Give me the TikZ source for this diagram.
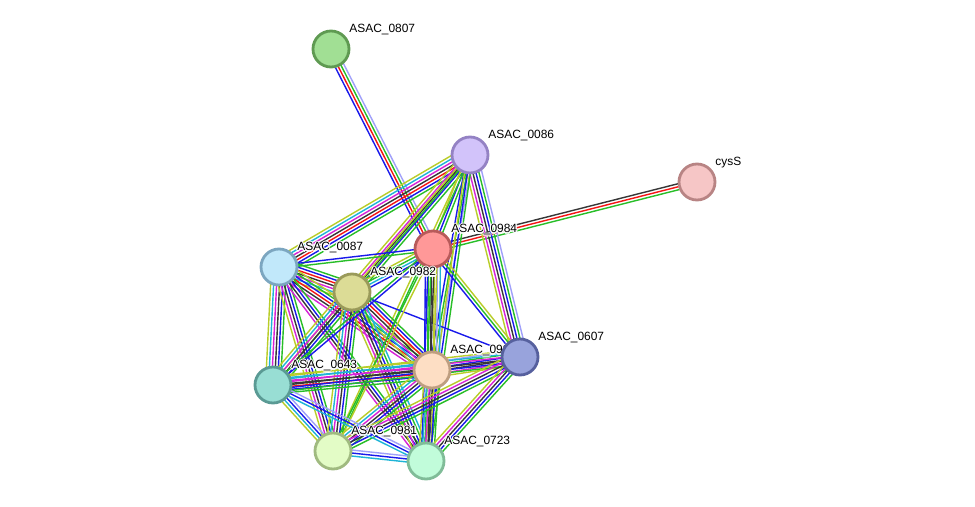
\documentclass[tikz,border=0pt]{standalone}
\usepackage{fontspec}
\setmainfont{Liberation Sans}
\usetikzlibrary{calc}
\pgfdeclarelayer{bg}
\pgfsetlayers{bg,main}

% evidence channel colours
\definecolor{nbhGreen}{RGB}{40,190,40}
\definecolor{fusRed}{RGB}{245,20,20}
\definecolor{cocBlue}{RGB}{25,25,235}
\definecolor{cxpBlack}{RGB}{55,55,55}
\definecolor{expPink}{RGB}{215,35,215}
\definecolor{dbsCyan}{RGB}{30,180,215}
\definecolor{txtLime}{RGB}{185,205,40}
\definecolor{homLav}{RGB}{160,160,250}

% protein fills / rims
\definecolor{f0807}{RGB}{161,223,148}\definecolor{d0807}{RGB}{95,154,82}
\definecolor{f0086}{RGB}{210,195,250}\definecolor{d0086}{RGB}{148,130,196}
\definecolor{fcys}{RGB}{246,198,198}\definecolor{dcys}{RGB}{184,132,132}
\definecolor{f0984}{RGB}{255,152,152}\definecolor{d0984}{RGB}{184,90,90}
\definecolor{f0087}{RGB}{193,232,250}\definecolor{d0087}{RGB}{124,166,192}
\definecolor{f0982}{RGB}{220,220,150}\definecolor{d0982}{RGB}{154,154,90}
\definecolor{f0983}{RGB}{253,222,196}\definecolor{d0983}{RGB}{190,158,128}
\definecolor{f0607}{RGB}{152,163,220}\definecolor{d0607}{RGB}{86,96,158}
\definecolor{f0643}{RGB}{152,222,212}\definecolor{d0643}{RGB}{90,154,148}
\definecolor{f0981}{RGB}{227,252,198}\definecolor{d0981}{RGB}{160,186,128}
\definecolor{f0723}{RGB}{193,252,218}\definecolor{d0723}{RGB}{128,188,152}

\tikzset{
  prot/.style 2 args={circle, fill=#1, draw=#2, line width=1.6pt, minimum size=0.72cm, inner sep=0pt},
  lbl/.style={anchor=west, inner sep=0pt, font=\fontsize{6.8}{8}\selectfont, text=black},
  evd/.style={line width=0.8pt},
}

% bundle of parallel evidence lines between two proteins
\newcommand\edge[3]{%
  \foreach \c [count=\n] in {#3} {\xdef\nlines{\n}}%
  \foreach \c [count=\i] in {#3} {%
    \pgfmathsetmacro\off{(\i-(\nlines+1)/2)*1.7}%
    \draw[evd, draw=\c] ($(#1)!\off pt!90:(#2)$) -- ($(#2)!\off pt!-90:(#1)$);
  }%
}

% protein name with a white halo, up and right of the disc
\newcommand\plabel[3]{%
  \foreach \dx/\dy in {-1.2/0,1.2/0,0/-1.2,0/1.2,-0.85/-0.85,0.85/-0.85,-0.85/0.85,0.85/0.85}
    \node[lbl, text=white] at ($(#2)+(18+\dx,-19+\dy)$) {#3};
  \node[lbl] (#1) at ($(#2)+(18,-19)$) {#3};
}

\begin{document}
\begin{tikzpicture}[x=0.02cm, y=-0.02cm]

\useasboundingbox (0,0) rectangle (975,507);

\node[prot={f0807}{d0807}] (n0807) at (331,49) {};
\plabel{l0807}{n0807}{ASAC\_0807}
\node[prot={f0086}{d0086}] (n0086) at (470,155) {};
\plabel{l0086}{n0086}{ASAC\_0086}
\node[prot={fcys}{dcys}] (ncys) at (697,182) {};
\plabel{lcys}{ncys}{cysS}
\node[prot={f0984}{d0984}] (n0984) at (433,249) {};
\plabel{l0984}{n0984}{ASAC\_0984}
\node[prot={f0087}{d0087}] (n0087) at (279,267) {};
\plabel{l0087}{n0087}{ASAC\_0087}
\node[prot={f0982}{d0982}] (n0982) at (352,292) {};
\plabel{l0982}{n0982}{ASAC\_0982}
\node[prot={f0643}{d0643}] (n0643) at (273,385) {};
\plabel{l0643}{n0643}{ASAC\_0643}
\node[prot={f0981}{d0981}] (n0981) at (333,451) {};
\plabel{l0981}{n0981}{ASAC\_0981}
\node[prot={f0723}{d0723}] (n0723) at (426,461) {};
\plabel{l0723}{n0723}{ASAC\_0723}
\node[prot={f0983}{d0983}] (n0983) at (432,370) {};
\plabel{l0983}{n0983}{ASAC\_0983}
% drawn last, it hides the end of the 0983 label
\node[prot={f0607}{d0607}] (n0607) at (520,357) {};
\plabel{l0607}{n0607}{ASAC\_0607}

\begin{pgfonlayer}{bg}
\fill[white] (0,0) rectangle (975,507);
\edge{n0807}{n0984}{cocBlue,fusRed,nbhGreen,homLav}
\edge{n0984}{ncys}{nbhGreen,fusRed,cxpBlack}
\edge{n0086}{n0087}{txtLime,dbsCyan,expPink,cxpBlack,fusRed,cocBlue,nbhGreen}
\edge{n0086}{n0982}{txtLime,expPink,cxpBlack,cocBlue,nbhGreen}
\edge{n0086}{n0984}{txtLime,cocBlue,nbhGreen}
\edge{n0086}{n0983}{cocBlue,nbhGreen,homLav}
\edge{n0086}{n0607}{txtLime,expPink,cxpBlack,cocBlue,nbhGreen,homLav}
\edge{n0086}{n0643}{txtLime,nbhGreen}
\edge{n0086}{n0723}{txtLime,cocBlue,nbhGreen}
\edge{n0086}{n0981}{txtLime,nbhGreen}
\edge{n0087}{n0984}{nbhGreen,cocBlue}
\edge{n0087}{n0982}{txtLime,dbsCyan,expPink,cxpBlack,fusRed,cocBlue,nbhGreen}
\edge{n0087}{n0643}{txtLime,dbsCyan,expPink,cxpBlack,cocBlue,nbhGreen}
\edge{n0087}{n0981}{txtLime,expPink,cxpBlack,cocBlue,nbhGreen}
\edge{n0087}{n0983}{expPink,cxpBlack,fusRed,cocBlue,nbhGreen,txtLime}
\edge{n0087}{n0723}{expPink,cxpBlack,cocBlue,nbhGreen}
\edge{n0982}{n0984}{cocBlue,dbsCyan,nbhGreen,txtLime}
\edge{n0982}{n0983}{txtLime,dbsCyan,expPink,cxpBlack,fusRed,cocBlue,nbhGreen}
\edge{n0982}{n0643}{txtLime,dbsCyan,expPink,cxpBlack,cocBlue,nbhGreen}
\edge{n0982}{n0981}{txtLime,dbsCyan,expPink,cxpBlack,cocBlue,nbhGreen}
\edge{n0982}{n0723}{txtLime,expPink,cxpBlack,cocBlue,nbhGreen,dbsCyan}
\edge{n0982}{n0607}{cocBlue}
\edge{n0984}{n0983}{cocBlue,nbhGreen,cxpBlack,txtLime,homLav,dbsCyan}
\edge{n0984}{n0723}{cocBlue,nbhGreen,cxpBlack,txtLime}
\edge{n0984}{n0607}{cocBlue,nbhGreen,txtLime}
\edge{n0984}{n0643}{nbhGreen,cocBlue}
\edge{n0984}{n0981}{nbhGreen,txtLime}
\edge{n0983}{n0607}{txtLime,expPink,cxpBlack,cocBlue,nbhGreen,homLav}
\edge{n0983}{n0643}{txtLime,dbsCyan,expPink,cxpBlack,fusRed,cocBlue,nbhGreen}
\edge{n0983}{n0981}{txtLime,dbsCyan,expPink,cxpBlack,cocBlue,nbhGreen}
\edge{n0983}{n0723}{txtLime,dbsCyan,expPink,cxpBlack,cocBlue,nbhGreen}
\edge{n0607}{n0643}{txtLime,dbsCyan,expPink,cxpBlack,cocBlue,nbhGreen}
\edge{n0607}{n0981}{txtLime,expPink,cxpBlack,cocBlue,nbhGreen}
\edge{n0607}{n0723}{txtLime,expPink,cxpBlack,cocBlue,nbhGreen}
\edge{n0643}{n0981}{txtLime,dbsCyan,cocBlue,homLav}
\edge{n0643}{n0723}{dbsCyan,cocBlue,homLav}
\edge{n0981}{n0723}{dbsCyan,cocBlue,homLav}
\end{pgfonlayer}

\end{tikzpicture}
\end{document}
